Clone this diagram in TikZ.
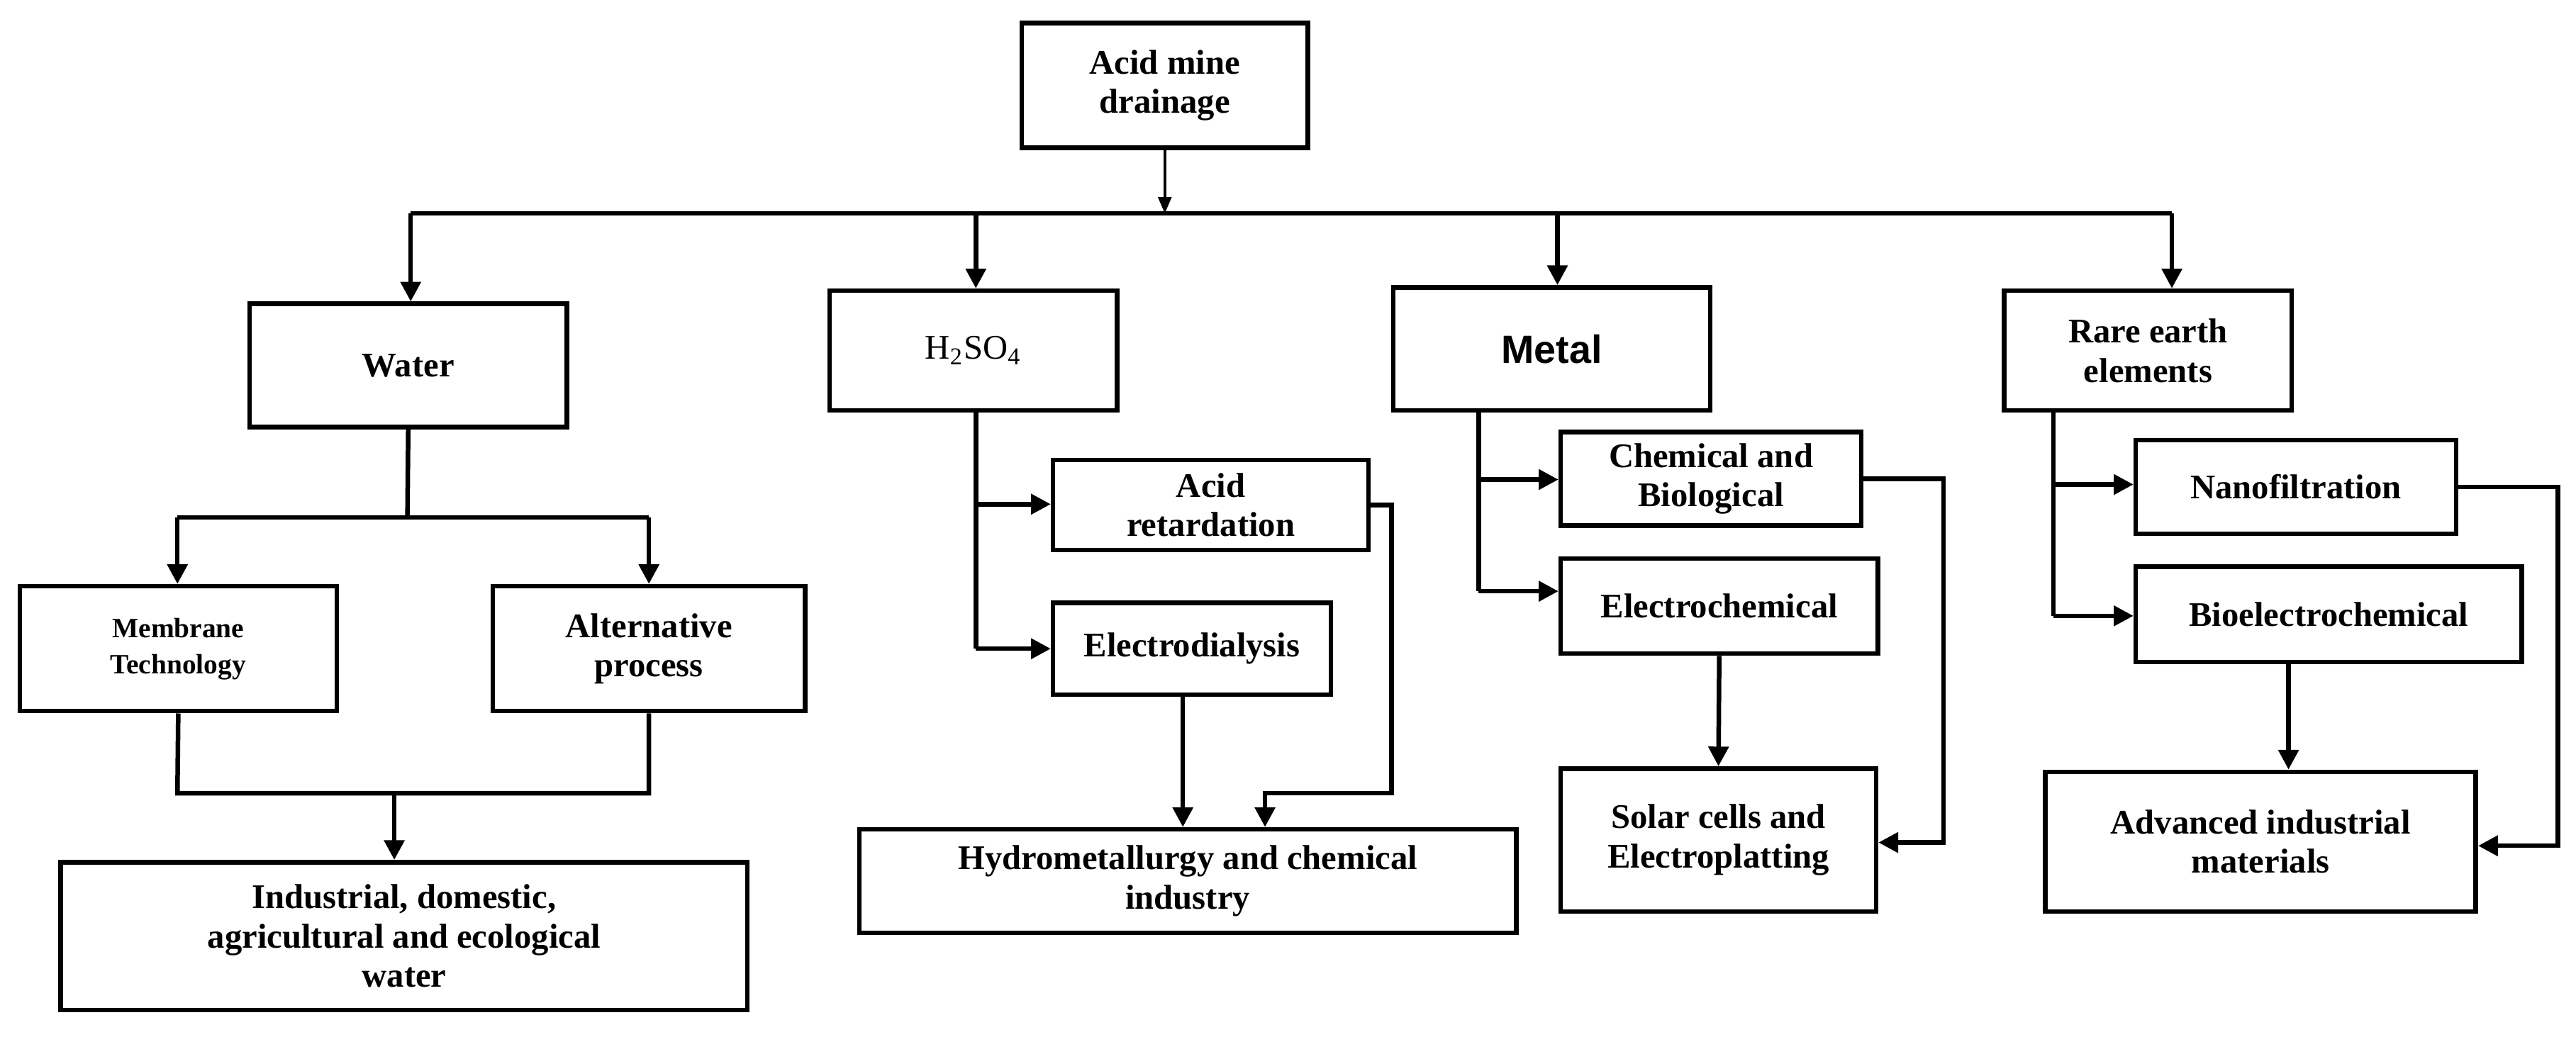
\documentclass[tikz,border=0pt]{standalone}
\usepackage{fontspec}
\setmainfont{Liberation Serif}
\newfontfamily\arialfont{Liberation Sans}
\usetikzlibrary{arrows.meta,calc}
\begin{document}
\begin{tikzpicture}[x=0.5pt,y=-0.5pt,
 box/.style={draw,line width=1.4pt,align=center,font=\bfseries\fontsize{10.5}{12}\selectfont,inner sep=1pt},
 ln/.style={line width=1.4pt},
 ar/.style={line width=1.4pt,-{Triangle[length=6pt,width=6pt]}}]
\useasboundingbox (0,0) rectangle (1568,631);
\node[box,minimum width=87pt,minimum height=38pt] (amd) at (709,52) {Acid mine\\drainage};
\node[box,minimum width=96.5pt,minimum height=37.5pt] (water) at (248.5,222.5) {Water};
\node[box,minimum width=87.5pt,minimum height=36.5pt,font=\fontsize{10.5}{12}\selectfont] (h2) at (592.5,213.5) {H\textsubscript{2}SO\textsubscript{4}};
\node[box,minimum width=96.5pt,minimum height=37.5pt,font=\arialfont\bfseries\fontsize{12}{14}\selectfont] (metal) at (944.5,212.5) {Metal};
\node[box,minimum width=87.5pt,minimum height=36.5pt] (rare) at (1307.5,213.5) {Rare earth\\elements};
\node[box,minimum width=96.5pt,minimum height=38pt,font=\bfseries\fontsize{8.5}{11}\selectfont] (mem) at (108.5,395) {Membrane\\Technology};
\node[box,minimum width=95pt,minimum height=38pt] (alt) at (395,395) {Alternative\\process};
\node[box,minimum width=209pt,minimum height=45pt] (ind) at (246,570) {Industrial, domestic,\\agricultural and ecological\\water};
\node[box,minimum width=96pt,minimum height=27.5pt] (acid) at (737,307.5) {Acid\\retardation};
\node[box,minimum width=84.5pt,minimum height=28pt] (edia) at (725.5,395) {Electrodialysis};
\node[box,minimum width=200pt,minimum height=31.5pt] (hyd) at (723,536.5) {Hydrometallurgy and chemical\\industry};
\node[box,minimum width=91.5pt,minimum height=28.5pt] (chem) at (1041.5,291.5) {Chemical and\\Biological};
\node[box,minimum width=96.5pt,minimum height=29pt] (echem) at (1046.5,369) {Electrochemical};
\node[box,minimum width=96pt,minimum height=43.5pt] (solar) at (1046,511.5) {Solar cells and\\Electroplatting};
\node[box,minimum width=97.5pt,minimum height=28.5pt] (nano) at (1397.5,296.5) {Nanofiltration};
\node[box,minimum width=117.5pt,minimum height=29pt] (bio) at (1417.5,374) {Bioelectrochemical};
\node[box,minimum width=131pt,minimum height=42.5pt] (adv) at (1376,512.5) {Advanced industrial\\materials};
\coordinate (t) at (709,130);
\draw[line width=0.8pt,-{Triangle[length=5pt,width=4pt]}] (amd.south) -- (t);
\draw[ln] (250,130) -- (1322,130);
\draw[ar] (250,130) -- (water.north-|250,0);
\draw[ar] (594,130) -- (h2.north-|594,0);
\draw[ar] (948,130) -- (metal.north-|948,0);
\draw[ar] (1322,130) -- (rare.north-|1322,0);
% water
\draw[ln] (water.south) -- (248,315);
\draw[ln] (108,315) -- (395,315);
\draw[ar] (108,315) -- (mem.north-|108,0);
\draw[ar] (395,315) -- (alt.north-|395,0);
\draw[ln] (mem.south) -- (108,483) -- (395,483) -- (alt.south);
\draw[ar] (240,483) -- (ind.north-|240,0);
% h2so4
\draw[ln] (h2.south-|594,0) -- (594,395);
\draw[ar] (594,307) -- (acid.west|-594,307);
\draw[ar] (594,395) -- (edia.west);
\draw[ar] (edia.south-|720,0) -- (hyd.north-|720,0);
\draw[ar] (acid.east) -- (847,307.5) -- (847,483) -- (770,483) -- (hyd.north-|770,0);
% metal
\draw[ln] (metal.south-|900,0) -- (900,360);
\draw[ar] (900,292) -- (chem.west|-900,292);
\draw[ar] (900,360) -- (echem.west|-900,360);
\draw[ar] (echem.south) -- (solar.north);
\draw[ar] (chem.east) -- (1183,291.5) -- (1183,513) -- (solar.east|-1183,513);
% rare
\draw[ln] (rare.south-|1250,0) -- (1250,375);
\draw[ar] (1250,295) -- (nano.west|-1250,295);
\draw[ar] (1250,375) -- (bio.west|-1250,375);
\draw[ar] (bio.south-|1393,0) -- (adv.north-|1393,0);
\draw[ar] (nano.east) -- (1557,296.5) -- (1557,515) -- (adv.east|-1557,515);
\end{tikzpicture}
\end{document}
